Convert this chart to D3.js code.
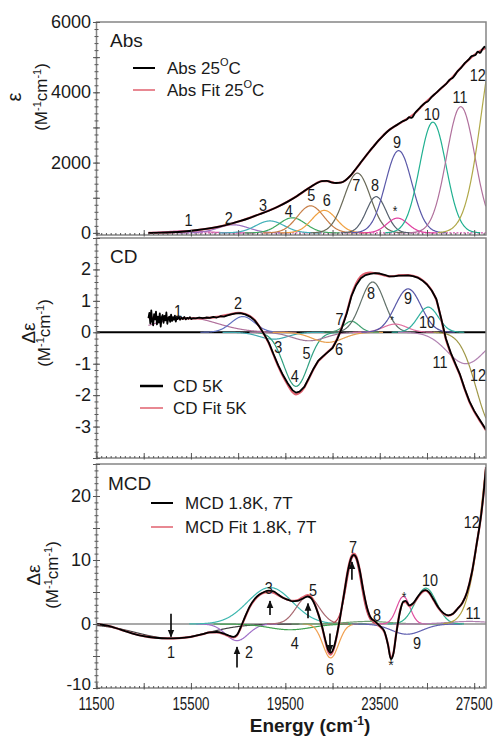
<!DOCTYPE html>
<html><head><meta charset="utf-8">
<script src="https://cdn.jsdelivr.net/npm/d3@7"></script>
<style>body{margin:0;background:#fff} svg text{font-family:"Liberation Sans",Arial,Helvetica,sans-serif;fill:#1a1a1a}</style>
</head><body><svg id="c" width="501" height="737"></svg>
<script>
// ---------------- DATA ----------------
const xTickLabels = [11500, 15500, 19500, 23500, 27500];
const bandNames = ["1","2","3","4","5","6","7","8","*","9","10","11","12"];

// Abs panel: experimental (black) and fit (red), [energy, epsilon]
const absData = [[13700,0],[14200,5],[14700,18],[15200,40],[15700,75],[16200,120],[16700,180],[17200,260],[17600,340],[18000,430],[18400,530],[18800,630],[19200,750],[19600,890],[20000,1050],[20300,1190],[20600,1320],[20850,1420],[21050,1475],[21250,1480],[21450,1440],[21650,1420],[21850,1430],[22050,1500],[22250,1620],[22450,1790],[22650,1960],[22850,2140],[23050,2310],[23250,2470],[23450,2630],[23650,2770],[23850,2900],[24050,3000],[24250,3080],[24450,3170],[24650,3230],[24750,3290],[24850,3270],[25000,3420],[25200,3560],[25400,3690],[25550,3750],[25700,3870],[25900,3990],[26100,4120],[26300,4230],[26450,4350],[26600,4420],[26800,4600],[26950,4700],[27100,4830],[27250,4920],[27400,5030],[27550,5060],[27650,5160],[27750,5120],[27850,5230],[27950,5300],[28000,5230]];
const absFit = [[13700,0],[14700,18],[15700,75],[16700,180],[17600,340],[18400,530],[19200,750],[20000,1050],[20600,1320],[21050,1470],[21300,1470],[21600,1420],[21900,1440],[22250,1620],[22650,1960],[23050,2310],[23450,2630],[23850,2900],[24250,3080],[24650,3240],[25000,3410],[25400,3690],[25800,3930],[26200,4170],[26600,4440],[27000,4750],[27400,5010],[27800,5200],[28000,5270]];
// Abs Gaussian bands (order of bandNames): centre, height, sigma
const absCenter = [15300,17300,18850,19800,20570,21150,22550,23350,24250,24300,25750,26930,28550];
const absHeight = [60,230,340,430,770,640,1700,1030,420,2340,3150,3590,5800];
const absSigma  = [800,650,600,560,560,520,550,420,450,560,560,600,720];
const absLabelAt = [[15400,370],[17100,420],[18550,790],[19650,620],[20600,1080],[21250,940],[22500,1360],[23300,1360],[24150,620],[24230,2590],[25700,3380],[26900,3870],[27650,4490]];

// CD panel
const cdData = [[13700,0.45],[13740,0.62],[13780,0.28],[13820,0.7],[13860,0.35],[13900,0.22],[13940,0.58],[13980,0.41],[14020,0.66],[14060,0.25],[14100,0.5],[14140,0.31],[14180,0.6],[14220,0.18],[14260,0.47],[14300,0.55],[14340,0.3],[14380,0.52],[14420,0.38],[14460,0.63],[14500,0.27],[14540,0.44],[14580,0.5],[14620,0.33],[14660,0.56],[14700,0.36],[14740,0.48],[14780,0.4],[14820,0.53],[14860,0.34],[14900,0.46],[14940,0.42],[14980,0.51],[15040,0.4],[15100,0.47],[15160,0.42],[15220,0.49],[15280,0.41],[15340,0.46],[15400,0.43],[15460,0.48],[15520,0.42],[15580,0.45],[15700,0.44],[15850,0.47],[16000,0.45],[16150,0.47],[16300,0.46],[16450,0.49],[16600,0.47],[16750,0.51],[16900,0.5],[17050,0.54],[17200,0.57],[17400,0.6],[17600,0.61],[17800,0.57],[18000,0.5],[18200,0.38],[18400,0.18],[18600,-0.06],[18800,-0.33],[19000,-0.7],[19200,-1.05],[19400,-1.36],[19600,-1.62],[19800,-1.84],[19950,-1.92],[20100,-1.89],[20300,-1.74],[20500,-1.45],[20700,-1.15],[20900,-0.9],[21100,-0.76],[21300,-0.63],[21500,-0.5],[21700,-0.22],[21900,0.15],[22100,0.6],[22300,1.15],[22500,1.5],[22700,1.72],[22900,1.82],[23100,1.86],[23300,1.88],[23500,1.87],[23700,1.83],[23900,1.78],[24100,1.78],[24300,1.8],[24500,1.8],[24700,1.81],[24900,1.79],[25100,1.74],[25300,1.65],[25500,1.52],[25700,1.33],[25900,1.05],[26100,0.45],[26300,-0.2],[26500,-0.64],[26700,-1.0],[26900,-1.35],[27100,-1.8],[27300,-2.2],[27500,-2.5],[27700,-2.74],[27900,-2.98],[28000,-3.1]];
const cdFit = [[13700,0.47],[14200,0.46],[14700,0.45],[15200,0.44],[15700,0.44],[16200,0.46],[16700,0.5],[17200,0.58],[17500,0.62],[17800,0.58],[18000,0.51],[18200,0.39],[18400,0.18],[18600,-0.07],[18800,-0.35],[19000,-0.72],[19200,-1.08],[19400,-1.4],[19600,-1.67],[19800,-1.9],[19950,-1.98],[20100,-1.93],[20300,-1.76],[20500,-1.47],[20700,-1.17],[20900,-0.92],[21100,-0.77],[21300,-0.62],[21500,-0.48],[21700,-0.2],[21900,0.18],[22100,0.63],[22300,1.17],[22500,1.55],[22700,1.78],[22900,1.88],[23100,1.9],[23300,1.88],[23500,1.85],[23700,1.81],[23900,1.78],[24100,1.79],[24300,1.81],[24500,1.82],[24700,1.82],[24900,1.8],[25100,1.75],[25300,1.66],[25500,1.53],[25700,1.33],[25900,1.02],[26100,0.42],[26300,-0.22],[26500,-0.66],[26700,-1.02],[26900,-1.37],[27100,-1.82],[27300,-2.22],[27500,-2.52],[27700,-2.77],[27900,-3.0],[28000,-3.12]];
const cdCenter = [15300,17700,19000,19950,20500,21300,22300,23200,24150,24700,25550,27150,28300];
const cdHeight = [0.47,0.5,-0.22,-1.72,-0.27,-0.32,0.35,1.6,0.26,1.38,0.8,-1.0,-3.0];
const cdSigma  = [1300,500,600,520,700,650,330,500,500,550,430,800,700];
const cdLabelAt = [[14950,0.69],[17500,0.94],[19200,-0.48],[19900,-1.4],[20400,-0.67],[21770,-0.55],[21800,0.43],[23130,1.26],[24020,0.37],[24700,1.1],[25500,0.31],[26050,-0.96],[27660,-1.37]];

// MCD panel
const mcdData = [[11500,0],[12000,-0.3],[12500,-0.85],[13000,-1.45],[13500,-1.9],[14000,-2.15],[14500,-2.25],[15000,-2.2],[15500,-2.0],[16000,-1.6],[16300,-1.3],[16600,-1.25],[16900,-1.5],[17100,-1.8],[17300,-2.0],[17450,-1.7],[17600,-0.6],[17800,1.2],[18000,2.8],[18200,3.9],[18400,4.6],[18600,5.0],[18800,5.2],[19000,5.1],[19200,4.6],[19400,4.1],[19600,3.8],[19800,3.55],[20000,3.6],[20200,3.9],[20450,4.3],[20600,4.0],[20750,3.0],[20900,1.5],[21050,-0.3],[21200,-2.6],[21320,-4.1],[21420,-4.5],[21550,-3.7],[21700,-1.4],[21850,1.7],[22000,5.0],[22150,8.3],[22300,10.4],[22400,10.8],[22500,10.4],[22650,8.4],[22800,5.3],[22950,2.7],[23100,1.1],[23300,0.4],[23500,-0.3],[23700,-1.2],[23850,-3.3],[23970,-5.5],[24080,-4.6],[24200,-1.5],[24350,1.8],[24500,3.5],[24600,3.6],[24750,2.9],[24900,3.2],[25100,4.2],[25300,5.1],[25450,5.3],[25600,4.9],[25800,3.7],[26000,2.5],[26200,1.7],[26400,1.35],[26600,1.6],[26800,2.4],[27000,3.3],[27200,5.0],[27400,8.0],[27600,12.4],[27800,17.2],[27900,20.5],[28000,24.5]];
const mcdFit = [[11500,0],[12000,-0.3],[12500,-0.85],[13000,-1.45],[13500,-1.9],[14000,-2.15],[14500,-2.25],[15000,-2.2],[15500,-2.0],[16000,-1.6],[16300,-1.3],[16600,-1.3],[16900,-1.6],[17100,-1.9],[17300,-2.1],[17450,-1.8],[17600,-0.7],[17800,1.1],[18000,2.7],[18200,3.8],[18400,4.5],[18600,4.9],[18800,5.0],[19000,4.9],[19200,4.5],[19400,4.1],[19600,3.8],[19800,3.6],[20000,3.7],[20200,4.1],[20450,4.5],[20600,4.2],[20750,3.1],[20900,1.5],[21050,-0.4],[21200,-2.8],[21320,-4.4],[21420,-4.8],[21550,-3.9],[21700,-1.5],[21850,1.7],[22000,5.1],[22150,8.5],[22300,10.6],[22400,11.0],[22500,10.6],[22650,8.5],[22800,5.3],[22950,2.6],[23100,1.0],[23300,0.3],[23500,-0.4],[23700,-1.3],[23850,-3.2],[23970,-5.3],[24080,-4.5],[24200,-1.4],[24350,1.9],[24500,3.4],[24600,3.4],[24750,2.8],[24900,3.1],[25100,4.1],[25300,5.0],[25450,5.2],[25600,4.8],[25800,3.6],[26000,2.4],[26200,1.6],[26400,1.3],[26600,1.6],[26800,2.4],[27000,3.3],[27200,5.0],[27400,8.0],[27600,12.4],[27800,17.2],[27900,20.5],[28000,24.5]];
const mcdCenter = [14700,17450,18850,19700,20450,21420,22400,23000,24500,24650,25450,27300,28600];
const mcdHeight = [-2.25,-2.6,5.7,-0.9,4.3,-5.3,10.6,0.4,4.3,-1.6,5.6,0.4,37];
const mcdSigma  = [1500,480,950,900,480,330,300,900,280,650,450,900,670];
const mcdLabelAt = [[14660,-4.4],[17960,-4.4],[18800,5.6],[19900,-3.0],[20670,5.3],[21390,-7.0],[22370,12.0],[23380,1.4],[24530,4.2],[25080,-3.0],[25630,6.9],[27450,1.7],[27400,15.9]];
const mcdExtraStar = [23975,-6.4];
// MCD sign arrows: energy, tail value, head value
const mcdArrows = [[14656,1.6,-2.0],[17452,-6.8,-3.6],[18850,1.4,3.6],[20460,0.9,3.2],[21390,-1.5,-4.4],[22320,6.9,9.7]];

// ---------------- STYLE ----------------
const absColors = ["#d060a8","#9a70c0","#40b0b8","#40a860","#c8804a","#f0a040","#6a6a58","#56606e","#e040a0","#5a58a8","#20b090","#b0709c","#b0a848"];
const cdColors  = ["#b0709c","#6070c0","#40a8b0","#30a080","#a07898","#e8a050","#40a070","#607068","#e070a0","#5858a8","#30b0a0","#b080b0","#a09848"];
const mcdColors = ["#404040","#a070c8","#40b8b0","#40a050","#a86870","#f0a050","#c04050","#70a070","#e050a0","#6060b0","#30b090","#b080b0","#b0a040"];
const FRAME = "#858585", RED = "#e0606e";

const svg = d3.select("#c");
const L = 96.5, R = 486;
const x = d3.scaleLinear().domain([11500, 28000]).range([L, R]);

function gauss(c, h, s, lo, hi) {
  const a = Math.max(lo, c - 3.6 * s), b = Math.min(hi, c + 3.6 * s);
  const pts = [];
  for (let e = a; e <= b + 1e-6; e += 20) pts.push([e, h * Math.exp(-((e - c) ** 2) / (2 * s * s))]);
  return pts;
}
function txt(g, px, py, str, o = {}) {
  const t = g.append("text")
    .attr("transform", `translate(${px},${py}) scale(${o.sx || 1},1)${o.rot ? " rotate(" + o.rot + ")" : ""}`)
    .attr("font-size", o.size || 16)
    .attr("text-anchor", o.anchor || "start")
    .attr("font-weight", o.weight || null);
  if (o.mid) t.attr("dominant-baseline", "central");
  if (Array.isArray(str)) {
    str.forEach(p => {
      const ts = t.append("tspan").text(p.t);
      if (p.sup) ts.attr("font-size", p.sup).attr("dy", p.dy);
      else if (p.dy) ts.attr("dy", p.dy);
    });
  } else t.text(str);
  return t;
}
function unitsLabel(g, px, py, size) {
  const s = Math.round(size * 0.65);
  return txt(g, px, py, [{t:"(M"},{t:"-1",sup:s,dy:-size*0.38},{t:"cm",dy:size*0.38},{t:"-1",sup:s,dy:-size*0.38},{t:")",dy:size*0.38}], {size, anchor:"middle", rot:-90});
}

const defs = svg.append("defs");
defs.append("marker").attr("id","ah").attr("viewBox","0 0 10 10").attr("refX",9).attr("refY",5)
  .attr("markerUnits","userSpaceOnUse").attr("markerWidth",8).attr("markerHeight",8).attr("orient","auto")
  .append("path").attr("d","M0,0.8L10,5L0,9.2Z").attr("fill","#111");

const panels = [
  {id:"abs", top:22, bottom:235, dom:[-60,6000], labels:[0,2000,4000,6000], mid:1000, minor:200, start:13700,
   data:absData, fit:absFit, c:absCenter, h:absHeight, s:absSigma, col:absColors, lab:absLabelAt, curve:d3.curveMonotoneX},
  {id:"cd", top:238, bottom:458, dom:[-4,3], labels:[-3,-2,-1,0,1,2], mid:1, minor:0.2, start:13700,
   data:cdData, fit:cdFit, c:cdCenter, h:cdHeight, s:cdSigma, col:cdColors, lab:cdLabelAt, curve:d3.curveLinear},
  {id:"mcd", top:464, bottom:688, dom:[-10,25], labels:[-10,0,10,20], mid:5, minor:1, start:11500,
   data:mcdData, fit:mcdFit, c:mcdCenter, h:mcdHeight, s:mcdSigma, col:mcdColors, lab:mcdLabelAt, curve:d3.curveMonotoneX}
];

panels.forEach(p => {
  const y = d3.scaleLinear().domain(p.dom).range([p.bottom, p.top]);
  p.y = y;
  const g = svg.append("g");
  defs.append("clipPath").attr("id","clip-"+p.id).append("rect")
    .attr("x",L).attr("y",p.top).attr("width",R-L).attr("height",p.bottom-p.top);
  const plot = g.append("g").attr("clip-path",`url(#clip-${p.id})`);

  if (p.id === "abs") {
    plot.append("line").attr("x1",x(p.start)).attr("x2",R).attr("y1",y(0)).attr("y2",y(0))
      .attr("stroke","#d050a8").attr("stroke-width",1.3).attr("stroke-dasharray","2,1.5");
  } else if (p.id === "cd") {
    plot.append("line").attr("x1",L).attr("x2",R).attr("y1",y(0)).attr("y2",y(0)).attr("stroke","#000").attr("stroke-width",2);
  } else {
    plot.append("line").attr("x1",L).attr("x2",R).attr("y1",y(0)).attr("y2",y(0)).attr("stroke","#555").attr("stroke-width",1.2);
  }

  const smooth = d3.line().x(d => x(d[0])).y(d => y(d[1])).curve(d3.curveMonotoneX);
  const dataLine = d3.line().x(d => x(d[0])).y(d => y(d[1])).curve(p.curve);
  p.c.forEach((c, i) => {
    plot.append("path").datum(gauss(c, p.h[i], p.s[i], p.start, 28000))
      .attr("d", smooth).attr("fill","none").attr("stroke", p.col[i]).attr("stroke-width",1.2);
  });
  plot.append("path").datum(p.fit).attr("d",smooth).attr("fill","none").attr("stroke",RED).attr("stroke-width",2.2);
  plot.append("path").datum(p.data).attr("d",dataLine).attr("fill","none").attr("stroke","#000").attr("stroke-width",1.8)
    .attr("stroke-linejoin","round");

  g.append("rect").attr("x",L).attr("y",p.top).attr("width",R-L).attr("height",p.bottom-p.top)
    .attr("fill","none").attr("stroke",FRAME).attr("stroke-width",1.5);

  const yMinor = d3.range(Math.ceil(p.dom[0] / p.minor) * p.minor, p.dom[1] + 1e-9, p.minor);
  const yMid = d3.range(Math.ceil(p.dom[0] / p.mid) * p.mid, p.dom[1] + 1e-9, p.mid);
  [[yMinor,2],[yMid,3.5]].forEach(([vals,len]) => {
    g.append("g").attr("transform",`translate(${L},0)`).call(d3.axisLeft(y).tickValues(vals).tickSize(len).tickFormat(""))
      .call(a => { a.select(".domain").remove(); a.selectAll("line").attr("stroke","#555"); });
    g.append("g").attr("transform",`translate(${L},0)`).call(d3.axisRight(y).tickValues(vals).tickSize(len).tickFormat(""))
      .call(a => { a.select(".domain").remove(); a.selectAll("line").attr("stroke","#555"); });
  });
  p.labels.forEach(v => {
    const low = v === p.dom[0] && p.id === "mcd";
    txt(g, 91, y(v) - (low ? 4 : 0), String(v), {size: low ? 17 : 18, anchor:"end", mid:true});
  });

  const xMinor = d3.range(11500, 28001, 200), xMajor = d3.range(11500, 28001, 2000);
  [[xMinor,2],[xMajor,5]].forEach(([vals,len]) => {
    g.append("g").attr("transform",`translate(0,${p.bottom})`).call(d3.axisTop(x).tickValues(vals).tickSize(len).tickFormat(""))
      .call(a => { a.select(".domain").remove(); a.selectAll("line").attr("stroke","#555"); });
  });
  g.append("g").attr("transform",`translate(0,${p.bottom})`).call(d3.axisBottom(x).tickValues(xMajor).tickSize(1.5).tickFormat(""))
      .call(a => { a.select(".domain").remove(); a.selectAll("line").attr("stroke","#555"); });

  p.lab.forEach((d, i) => {
    const star = bandNames[i] === "*";
    txt(g, x(d[0]), y(d[1]), bandNames[i], {size: star ? (p.id==="cd"?11:14) : 17, anchor:"middle", mid:true, sx:0.85});
  });
});

const [pa, pc, pm] = panels;
txt(svg, x(mcdExtraStar[0]), pm.y(mcdExtraStar[1]), "*", {size:14, anchor:"middle", mid:true});
mcdArrows.forEach(a => {
  svg.append("line").attr("x1", x(a[0])).attr("x2", x(a[0])).attr("y1", pm.y(a[1])).attr("y2", pm.y(a[2]))
    .attr("stroke","#111").attr("stroke-width",1.7).attr("marker-end","url(#ah)");
});

// x tick labels
xTickLabels.forEach(v => txt(svg, x(v), 710, String(v), {size:18, anchor:"middle", sx:0.74}));
txt(svg, 310, 732, [{t:"Energy (cm"},{t:"-1",sup:12,dy:-7},{t:")",dy:7}], {size:19, anchor:"middle", weight:"bold"});

// panel titles
txt(svg, 110, pa.top + 25, "Abs", {size:19});
txt(svg, 110, pc.top + 25, "CD", {size:19});
txt(svg, 108, pm.top + 26, "MCD", {size:19});

// y titles
txt(svg, 21, 97, "ε", {size:20, anchor:"middle", rot:-90});
unitsLabel(svg, 47, 97, 17);
txt(svg, 35, 333, "Δε", {size:19, anchor:"middle", rot:-90});
unitsLabel(svg, 50, 333, 17);
txt(svg, 40, 575, "Δε", {size:19, anchor:"middle", rot:-90});
unitsLabel(svg, 58, 575, 17);

// legends
function legend(x1, x2, yy, textX, label, color, w) {
  svg.append("line").attr("x1",x1).attr("x2",x2).attr("y1",yy).attr("y2",yy).attr("stroke",color).attr("stroke-width",w);
  txt(svg, textX, yy, label, {size:17, mid:true});
}
const deg = (pre) => [{t:pre},{t:"O",sup:11,dy:-6},{t:"C",dy:6}];
legend(133,155,68,167,deg("Abs 25"),"#000",2);
legend(133,155,90,167,deg("Abs Fit 25"),RED,1.5);
legend(140,163,386,173,"CD 5K","#000",2.5);
legend(140,163,408,173,"CD Fit 5K",RED,1.5);
legend(151,173,503,185,"MCD 1.8K, 7T","#000",2);
legend(151,173,527,185,"MCD Fit 1.8K, 7T",RED,1.5);
</script></body></html>
